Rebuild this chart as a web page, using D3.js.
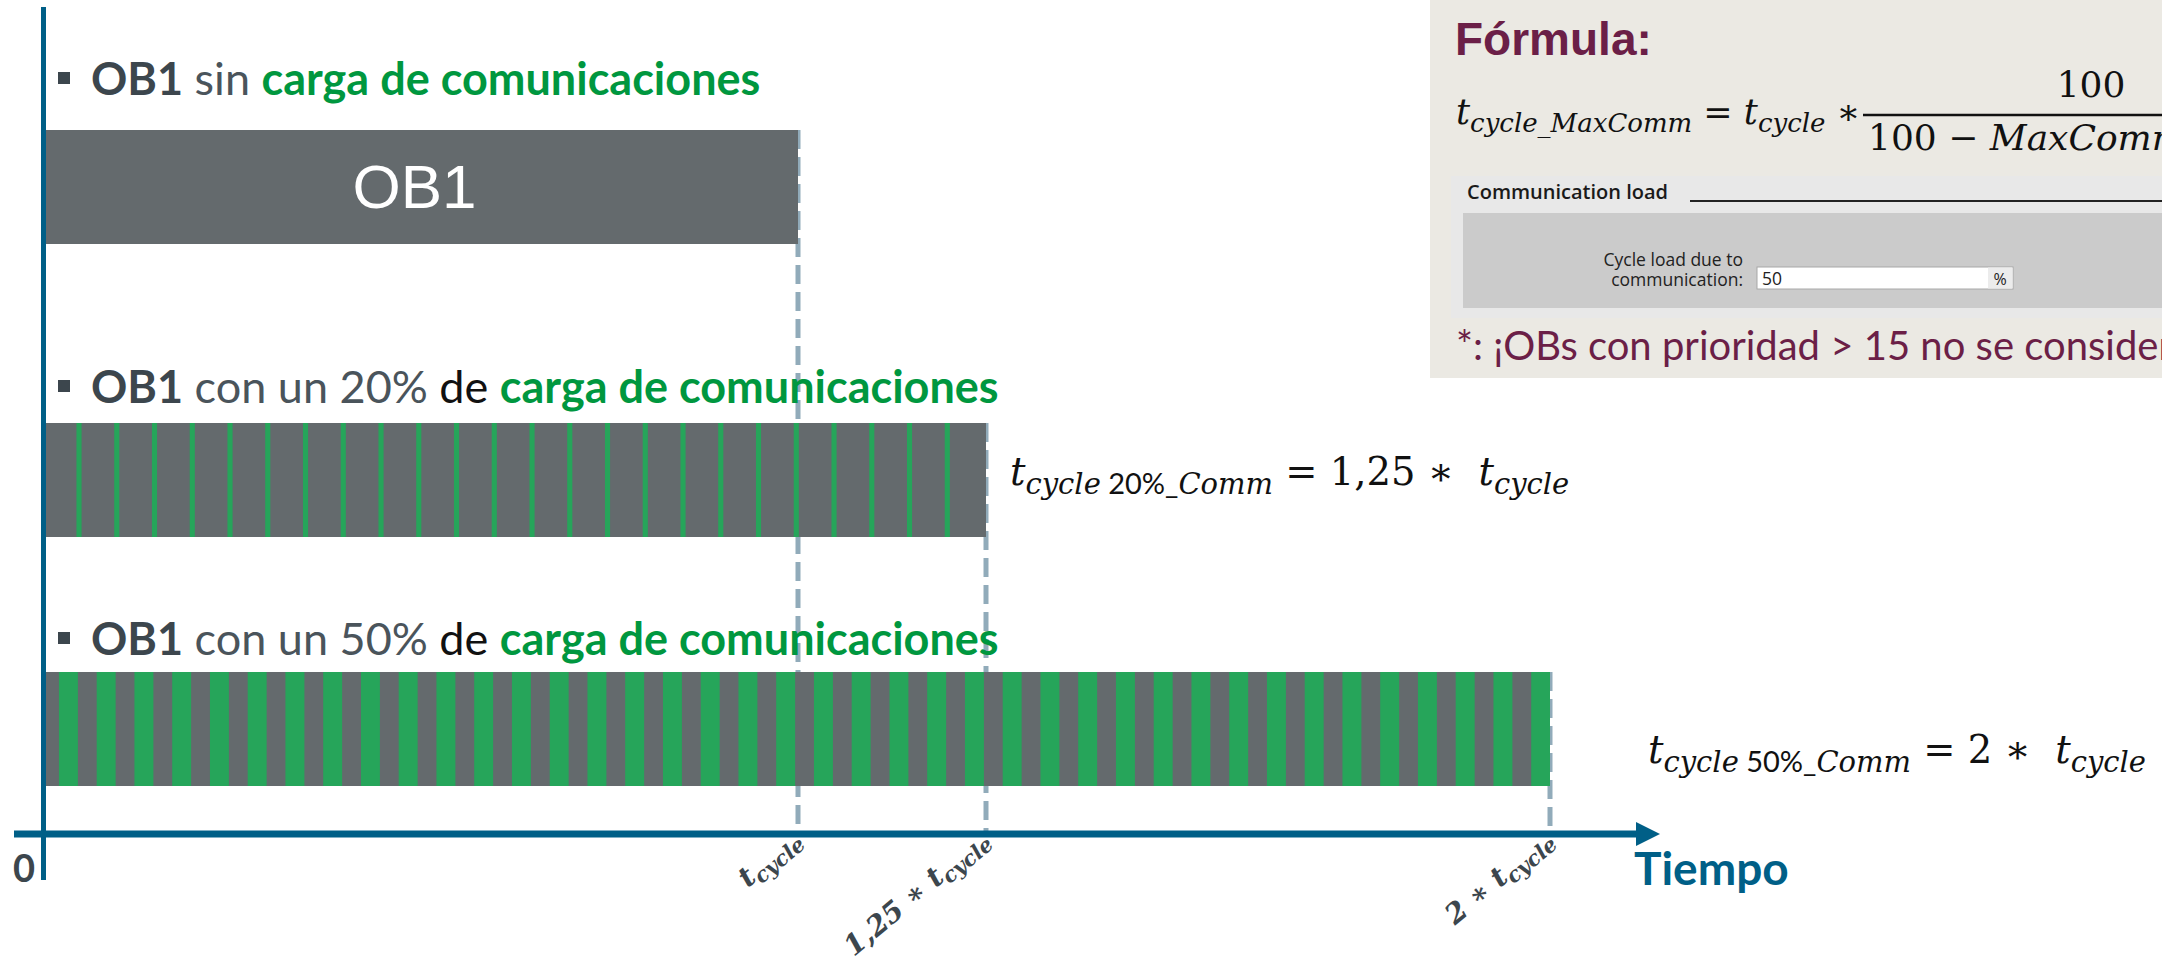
<!DOCTYPE html>
<html>
<head>
<meta charset="utf-8">
<script src="https://cdn.jsdelivr.net/npm/d3@7/dist/d3.min.js"></script>
<style>
  html, body { margin: 0; padding: 0; background: #fff; }
  svg { display: block; }
  text { white-space: pre; }
</style>
</head>
<body>
<svg id="chart"></svg>
<script>
// ---- data (time in units of t_cycle) ----
const rowIds = ['none', 'load20', 'load50'];
const rowLoads = [0, 20, 50];            // communication load %
const rowEnds = [1, 1.25, 2];            // resulting cycle time
const stripeStart = [0, 0.0405, 0.0172]; // first comm slice
const stripeWidth = [0, 0.0068, 0.0252]; // comm slice width
const stripeCount = [0, 24, 40];
const slicePeriod = 0.0502;
const tickValues = [1, 1.25, 2];
const tickFactors = ['', '1,25 \u2217 ', '2 \u2217 '];
const rowTitles = [
  [['OB1', 'b'], [' sin ', 'r'], ['carga de comunicaciones', 'g']],
  [['OB1', 'b'], [' con un 20% ', 'r'], ['de ', 'k'], ['carga de comunicaciones', 'g']],
  [['OB1', 'b'], [' con un 50% ', 'r'], ['de ', 'k'], ['carga de comunicaciones', 'g']]
];
const rowEquations = [
  null,
  [['t', 'i'], ['cycle', 'si'], [' 20%_', 'sr'], ['Comm', 'si'], [' = 1,25 \u2217  ', 'r'], ['t', 'i'], ['cycle', 'si']],
  [['t', 'i'], ['cycle', 'si'], [' 50%_', 'sr'], ['Comm', 'si'], [' = 2 \u2217  ', 'r'], ['t', 'i'], ['cycle', 'si']]
];

// ---- layout ----
const W = 2162, H = 960;
const sans = 'Lato, "Open Sans", sans-serif';
const serif = '"DejaVu Serif", "Liberation Serif", serif';
const blue = '#005f87', grey = '#646a6d', green = '#26a55a';
const titleGreen = '#00973f', dark = '#3c464d', maroon = '#6b1f47';
const axisY = 834, barH = 114;

const svg = d3.select('#chart').attr('width', W).attr('height', H);

const x = d3.scaleLinear().domain([0, 2]).range([46, 1550]);
const barTop = d3.scaleOrdinal().domain(rowIds).range([130, 423, 672]);
const titleY = d3.scaleOrdinal().domain(rowIds).range([95, 403, 655]);
const eqPos = d3.scaleOrdinal().domain(rowIds).range([[0, 0], [1010, 485], [1648, 763]]);

const rows = rowIds.map((id, i) => ({
  id, load: rowLoads[i], end: rowEnds[i], title: rowTitles[i], eq: rowEquations[i],
  slices: d3.range(stripeCount[i]).map(k => stripeStart[i] + k * slicePeriod),
  sliceW: stripeWidth[i]
}));

// math-like text with subscripts
function addRuns(t, runs, main, sub, shift) {
  let down = false;
  runs.forEach(([str, kind]) => {
    const isSub = kind[0] === 's';
    const ts = t.append('tspan').text(str)
      .attr('font-size', isSub ? sub : main)
      .attr('font-style', kind.endsWith('i') ? 'italic' : 'normal');
    if (kind === 'sr') ts.attr('font-family', sans);
    if (isSub && !down) { ts.attr('dy', shift); down = true; }
    else if (!isSub && down) { ts.attr('dy', -shift); down = false; }
  });
}

// dashed guide lines (behind bars)
svg.append('g').selectAll('line').data(rows).join('line')
  .attr('x1', d => x(d.end)).attr('x2', d => x(d.end))
  .attr('y1', d => barTop(d.id)).attr('y2', axisY)
  .attr('stroke', '#91abba').attr('stroke-width', 5)
  .attr('stroke-dasharray', '19 8');

// bars
const bars = svg.append('g').selectAll('g').data(rows).join('g');
bars.append('rect')
  .attr('x', x(0)).attr('y', d => barTop(d.id))
  .attr('width', d => x(d.end) - x(0)).attr('height', barH)
  .attr('fill', grey);
bars.each(function(d) {
  const clipId = 'clip-' + d.id;
  d3.select(this).append('clipPath').attr('id', clipId).append('rect')
    .attr('x', x(0)).attr('y', barTop(d.id))
    .attr('width', x(d.end) - x(0)).attr('height', barH);
  d3.select(this).append('g').attr('clip-path', `url(#${clipId})`)
    .selectAll('rect').data(d.slices).join('rect')
    .attr('x', s => x(s)).attr('y', barTop(d.id))
    .attr('width', x(d.sliceW) - x(0)).attr('height', barH)
    .attr('fill', green);
});
svg.append('text')
  .attr('x', x(0.49)).attr('y', 208)
  .attr('text-anchor', 'middle')
  .attr('font-family', '"Liberation Sans", Arial, sans-serif')
  .attr('font-size', 62).attr('fill', '#fff')
  .text('OB1');

// row titles
const titleColor = { b: dark, r: '#4a545b', k: '#111', g: titleGreen };
rows.forEach(d => {
  const y = titleY(d.id);
  svg.append('rect').attr('x', 58).attr('y', y - 23).attr('width', 12).attr('height', 12).attr('fill', dark);
  const t = svg.append('text').attr('x', 91).attr('y', y)
    .attr('font-family', sans).attr('font-size', 45);
  d.title.forEach(([str, kind]) => {
    t.append('tspan').text(str)
      .attr('fill', titleColor[kind])
      .attr('font-weight', (kind === 'b' || kind === 'g') ? 700 : 400);
  });
});

// right-side equations
rows.filter(d => d.eq).forEach(d => {
  const [ex, ey] = eqPos(d.id);
  const t = svg.append('text').attr('x', ex).attr('y', ey)
    .attr('font-family', serif).attr('fill', '#111');
  addRuns(t, d.eq, 38.5, 29, 9);
});

// axes
svg.append('line').attr('x1', 43.5).attr('x2', 43.5).attr('y1', 7).attr('y2', 880)
  .attr('stroke', blue).attr('stroke-width', 5);
svg.append('line').attr('x1', 14).attr('x2', 1638).attr('y1', axisY).attr('y2', axisY)
  .attr('stroke', blue).attr('stroke-width', 7);
svg.append('path').attr('d', `M1636,${axisY - 12}L1660,${axisY}L1636,${axisY + 12}Z`).attr('fill', blue);
svg.append('text').attr('x', 13).attr('y', 882)
  .attr('font-family', sans).attr('font-weight', 700).attr('font-size', 38)
  .attr('fill', dark).text('0');
svg.append('text').attr('x', 1634).attr('y', 885)
  .attr('font-family', sans).attr('font-weight', 700).attr('font-size', 46)
  .attr('fill', blue).text('Tiempo');

// tick labels
tickValues.forEach((v, i) => {
  const t = svg.append('text')
    .attr('transform', `translate(${x(v) + 5},842) rotate(-40)`)
    .attr('text-anchor', 'end')
    .attr('font-family', serif).attr('font-weight', 700).attr('fill', dark);
  const runs = (tickFactors[i] ? [[tickFactors[i], 'i']] : []).concat([['t', 'i'], ['cycle', 'si']]);
  addRuns(t, runs, 28, 21, 6);
});

// formula box
const box = svg.append('g');
box.append('rect').attr('x', 1430).attr('y', 0).attr('width', W - 1430).attr('height', 378).attr('fill', '#ebe9e3');
box.append('text').attr('x', 1455).attr('y', 55)
  .attr('font-family', '"Liberation Sans", Arial, sans-serif').attr('font-weight', 700)
  .attr('font-size', 46).attr('fill', maroon).text('Fórmula:');
const f = box.append('text').attr('x', 1456).attr('y', 124).attr('font-family', serif).attr('fill', '#111');
addRuns(f, [['t', 'i'], ['cycle_MaxComm', 'si'], [' = ', 'r'], ['t', 'i'], ['cycle', 'si'], [' \u2217', 'r']], 35, 26, 8);
box.append('line').attr('x1', 1863).attr('x2', 2400).attr('y1', 115).attr('y2', 115)
  .attr('stroke', '#111').attr('stroke-width', 2.5);
box.append('text').attr('x', 2091).attr('y', 97).attr('text-anchor', 'middle')
  .attr('font-family', serif).attr('font-size', 36).attr('fill', '#111').text('100');
const den = box.append('text').attr('x', 1868).attr('y', 150).attr('font-family', serif).attr('fill', '#111');
addRuns(den, [['100 \u2212 ', 'r'], ['MaxCommLoad', 'i']], 36, 27, 8);

// communication load panel
const ui = '"Open Sans", "DejaVu Sans", sans-serif';
box.append('rect').attr('x', 1451).attr('y', 176).attr('width', W - 1451).attr('height', 142).attr('fill', '#e8e8e8');
box.append('rect').attr('x', 1463).attr('y', 213).attr('width', W - 1463).attr('height', 95).attr('fill', '#cbcbcb');
box.append('text').attr('x', 1467).attr('y', 199).attr('font-family', ui).attr('font-size', 20)
  .attr('font-weight', 600).attr('fill', '#1a1a1a').text('Communication load');
box.append('line').attr('x1', 1690).attr('x2', W).attr('y1', 201).attr('y2', 201)
  .attr('stroke', '#222').attr('stroke-width', 2);
box.append('text').attr('x', 1743).attr('y', 266).attr('text-anchor', 'end')
  .attr('font-family', ui).attr('font-size', 17.5).attr('fill', '#222').text('Cycle load due to');
box.append('text').attr('x', 1743).attr('y', 286).attr('text-anchor', 'end')
  .attr('font-family', ui).attr('font-size', 17.5).attr('fill', '#222').text('communication:');
box.append('rect').attr('x', 1757).attr('y', 267).attr('width', 256).attr('height', 22)
  .attr('fill', '#fff').attr('stroke', '#a8a8a8');
box.append('rect').attr('x', 1988).attr('y', 267.5).attr('width', 24.5).attr('height', 21).attr('fill', '#ececec');
box.append('text').attr('x', 1762).attr('y', 285).attr('font-family', ui).attr('font-size', 17.5)
  .attr('fill', '#222').text(String(rowLoads[2]));
box.append('text').attr('x', 2000).attr('y', 285).attr('text-anchor', 'middle').attr('font-family', ui)
  .attr('font-size', 16).attr('fill', '#222').text('%');
box.append('text').attr('x', 1456).attr('y', 360).attr('font-family', sans).attr('font-size', 40)
  .attr('fill', maroon).text('*: ¡OBs con prioridad > 15 no se consideran!');
</script>
</body>
</html>
